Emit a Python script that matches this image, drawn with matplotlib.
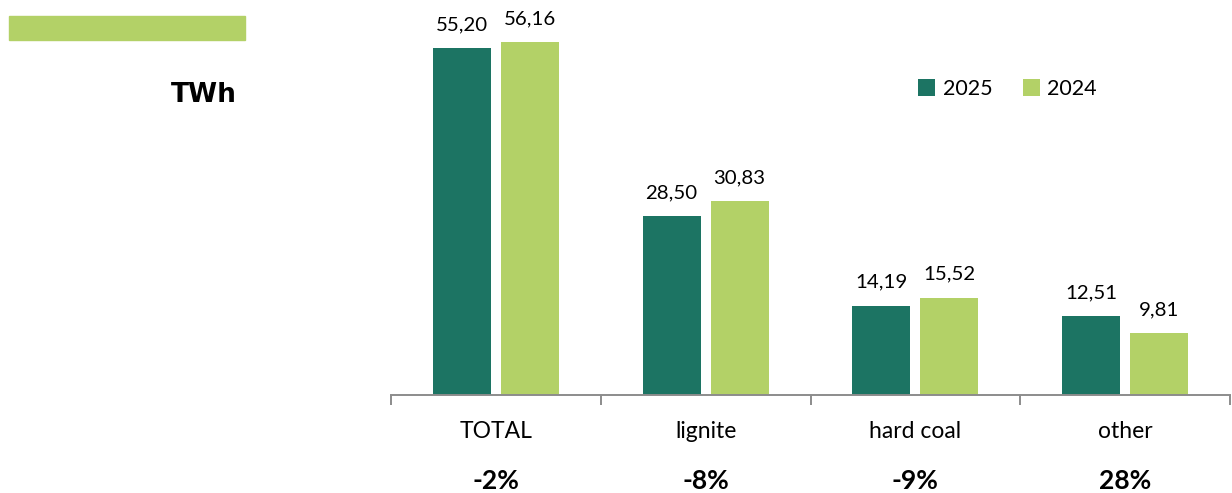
import matplotlib
matplotlib.use("Agg")
import matplotlib.pyplot as plt
from matplotlib.patches import Rectangle
import numpy as np

categories = ["TOTAL", "lignite", "hard coal", "other"]
series_names = ["2025", "2024"]
values_2025 = [55.20, 28.50, 14.19, 12.51]
values_2024 = [56.16, 30.83, 15.52, 9.81]
changes = ["-2%", "-8%", "-9%", "28%"]
unit_label = "TWh"

DARK = "#1C7463"
LIGHT = "#B3D167"
AXIS_GREY = "#8C8C8C"
LABEL_FONT = ["Lato", "DejaVu Sans"]

W, H = 1232, 493
fig = plt.figure(figsize=(W / 100, H / 100), dpi=100)

# plot area: x axis runs from px 391 to 1230, baseline at px 395
left, right, base = 391, 1230, 395
ax = fig.add_axes([left / W, (H - base) / H, (right - left) / W, base / H])

x = np.arange(len(categories))
bw = 0.276
off = 0.162
bars_a = ax.bar(x - off, values_2025, bw, color=DARK, label=series_names[0])
bars_b = ax.bar(x + off, values_2024, bw, color=LIGHT, label=series_names[1])

ax.set_xlim(-0.5, len(categories) - 0.5)
ax.set_ylim(0, 62.9)

for bars, vals in ((bars_a, values_2025), (bars_b, values_2024)):
    for b, v in zip(bars, vals):
        ax.annotate(f"{v:.2f}".replace(".", ","),
                    xy=(b.get_x() + b.get_width() / 2, v),
                    xytext=(0, 13), textcoords="offset points",
                    ha="center", va="baseline", fontsize=14.7,
                    family=LABEL_FONT, color="black")

# spines and ticks
for s in ("top", "right", "left"):
    ax.spines[s].set_visible(False)
ax.spines["bottom"].set_color(AXIS_GREY)
ax.spines["bottom"].set_linewidth(1.4)
ax.set_yticks([])

ax.set_xticks(x)
ax.set_xticklabels(categories, fontsize=16.5, family=LABEL_FONT)
for lbl in ax.get_xticklabels():
    lbl.set_va("baseline")
ax.tick_params(axis="x", which="major", length=0, pad=31)
ax.set_xticks(np.arange(-0.5, len(categories)), minor=True)
ax.tick_params(axis="x", which="minor", length=7, width=1.4,
               color=AXIS_GREY, direction="out")

# percentage change under each category
for xi, c in zip(x, changes):
    ax.annotate(c, xy=(xi, 0), xycoords=("data", "axes fraction"),
                xytext=(0, -68), textcoords="offset points",
                ha="center", va="baseline", fontsize=19,
                fontweight="bold", family=LABEL_FONT)

leg = ax.legend(loc="center left",
                bbox_to_anchor=(918 / W, 1 - 89 / H),
                bbox_transform=fig.transFigure,
                ncol=2, frameon=False, fontsize=15.5,
                prop={"family": LABEL_FONT, "size": 15.5},
                handlelength=0.8, handleheight=0.8,
                handletextpad=0.35, columnspacing=1.4,
                borderpad=0, borderaxespad=0)

# header decoration and unit
fig.patches.append(Rectangle((9 / W, 1 - 40 / H), 236 / W, 24 / H,
                             transform=fig.transFigure, color=LIGHT,
                             zorder=0))
fig.text(237 / W, 1 - 102 / H, unit_label, ha="right", va="baseline",
         fontsize=19, fontweight="bold", family="DejaVu Sans")

fig.savefig("out.png", dpi=100)
